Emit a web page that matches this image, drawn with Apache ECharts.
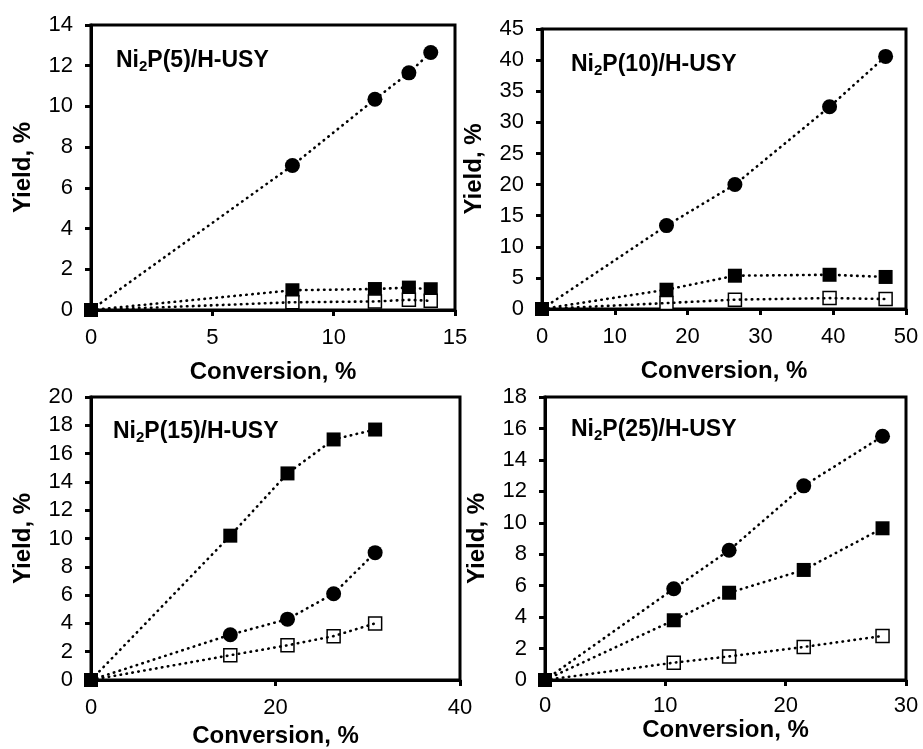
<!DOCTYPE html>
<html>
<head>
<meta charset="utf-8">
<script src="https://cdn.jsdelivr.net/npm/echarts@6/dist/echarts.min.js"></script>
<style>
  html, body { margin: 0; padding: 0; background: #fff; }
  #chart { width: 923px; height: 749px; }
</style>
</head>
<body>
<div id="chart"></div>
<script>
// Product yields vs. conversion for four Ni2P loadings on H-USY.
// Series: circles = ●, filled squares = ■, open squares = □

const loadings = ['5', '10', '15', '25'];

// Ni2P(5)/H-USY
const conv5  = [0, 8.3, 11.7, 13.1, 14.0];
const circ5  = [0, 7.1, 10.35, 11.65, 12.65];
const sqF5   = [0, 0.97, 1.03, 1.1, 1.02];
const sqO5   = [0, 0.38, 0.42, 0.5, 0.45];

// Ni2P(10)/H-USY
const conv10 = [0, 17.1, 26.5, 39.5, 47.2];
const circ10 = [0, 13.4, 20.0, 32.5, 40.6];
const sqF10  = [0, 3.1, 5.35, 5.5, 5.15];
const sqO10  = [0, 0.95, 1.5, 1.75, 1.6];

// Ni2P(15)/H-USY
const conv15 = [0, 15.1, 21.3, 26.3, 30.8];
const circ15 = [0, 3.2, 4.3, 6.1, 9.0];
const sqF15  = [0, 10.2, 14.6, 17.0, 17.7];
const sqO15  = [0, 1.75, 2.45, 3.1, 4.0];

// Ni2P(25)/H-USY
const conv25 = [0, 10.7, 15.3, 21.5, 28.05];
const circ25 = [0, 5.8, 8.25, 12.35, 15.5];
const sqF25  = [0, 3.8, 5.55, 7.0, 9.65];
const sqO25  = [0, 1.1, 1.5, 2.1, 2.8];

// Axis ranges per panel
const xMax = [15, 50, 40, 30];
const xStep = [5, 10, 20, 10];
const yMax = [14, 45, 20, 18];
const yStep = [2, 5, 2, 2];

const panelData = [
  { conv: conv5,  circ: circ5,  sqF: sqF5,  sqO: sqO5 },
  { conv: conv10, circ: circ10, sqF: sqF10, sqO: sqO10 },
  { conv: conv15, circ: circ15, sqF: sqF15, sqO: sqO15 },
  { conv: conv25, circ: circ25, sqF: sqF25, sqO: sqO25 }
];

// Plot-area placement of each panel
const layout = [
  { left: 91,  top: 25,  width: 364, height: 285, xMargin: 17, xGap: 50, title: [111, 43] },
  { left: 542, top: 29,  width: 364, height: 280, xMargin: 17, xGap: 50, title: [566, 47] },
  { left: 91,  top: 397, width: 369, height: 284, xMargin: 17, xGap: 44, title: [108, 414] },
  { left: 545, top: 397, width: 361, height: 283, xMargin: 15, xGap: 38, title: [566, 412] }
];

const FONT = '"Liberation Sans", Arial, sans-serif';
const BLACK = '#000';

const pairs = (xs, ys) => xs.map((x, i) => [x, ys[i]]);

const grids = [], xAxes = [], yAxes = [], series = [], titles = [];

layout.forEach((L, i) => {
  grids.push({
    left: L.left, top: L.top, width: L.width, height: L.height,
    show: true, borderColor: BLACK, borderWidth: 3, backgroundColor: 'transparent'
  });
  const axisCommon = {
    type: 'value', gridIndex: i, min: 0,
    nameLocation: 'middle',
    nameTextStyle: { fontFamily: FONT, fontSize: 24, fontWeight: 'bold', color: BLACK },
    axisLine: { show: true, onZero: false, lineStyle: { color: BLACK, width: 3 } },
    axisTick: { show: true, inside: false, length: 6, lineStyle: { color: BLACK, width: 3 } },
    axisLabel: { fontFamily: FONT, fontSize: 22, color: BLACK },
    splitLine: { show: false }
  };
  xAxes.push(Object.assign({}, axisCommon, {
    max: xMax[i], interval: xStep[i], name: 'Conversion, %', nameGap: L.xGap,
    axisLabel: Object.assign({}, axisCommon.axisLabel, { margin: L.xMargin })
  }));
  yAxes.push(Object.assign({}, axisCommon, {
    max: yMax[i], interval: yStep[i], name: 'Yield, %', nameGap: 56,
    axisLabel: Object.assign({}, axisCommon.axisLabel, { margin: 18 })
  }));

  titles.push({
    left: L.title[0], top: L.title[1],
    text: '{b|Ni}{s|2}{b|P(' + loadings[i] + ')/H-USY}',
    textStyle: {
      rich: {
        b: { fontFamily: FONT, fontSize: 23, fontWeight: 'bold', color: BLACK },
        s: { fontFamily: FONT, fontSize: 15, fontWeight: 'bold', color: BLACK, padding: [11, 0, 0, 0] }
      }
    }
  });

  const d = panelData[i];
  const marks = { xAxisIndex: i, yAxisIndex: i, type: 'scatter', z: 2, silent: true };
  // filled squares (including the origin point)
  series.push(Object.assign({}, marks, {
    symbol: 'rect', symbolSize: 14,
    itemStyle: { color: BLACK, opacity: 1 },
    data: pairs(d.conv, d.sqF)
  }));
  // open squares
  series.push(Object.assign({}, marks, {
    symbol: 'rect', symbolSize: 13,
    itemStyle: { color: '#fff', borderColor: BLACK, borderWidth: 1.5, opacity: 1 },
    data: pairs(d.conv, d.sqO).slice(1)
  }));
  // circles
  series.push(Object.assign({}, marks, {
    symbol: 'circle', symbolSize: 15,
    itemStyle: { color: BLACK, opacity: 1 },
    data: pairs(d.conv, d.circ).slice(1)
  }));
  // dotted trend lines through each set
  [d.circ, d.sqF, d.sqO].forEach(ys => {
    series.push({
      type: 'line', xAxisIndex: i, yAxisIndex: i, z: 3, silent: true,
      symbol: 'none', showSymbol: false, smooth: false,
      lineStyle: { color: BLACK, width: 2.6, type: [0.5, 5.5], cap: 'round' },
      data: pairs(d.conv, ys)
    });
  });
});

const chart = echarts.init(document.getElementById('chart'), null, { renderer: 'canvas' });
chart.setOption({
  backgroundColor: '#fff',
  animation: false,
  title: titles,
  grid: grids,
  xAxis: xAxes,
  yAxis: yAxes,
  series: series
});
</script>
</body>
</html>
